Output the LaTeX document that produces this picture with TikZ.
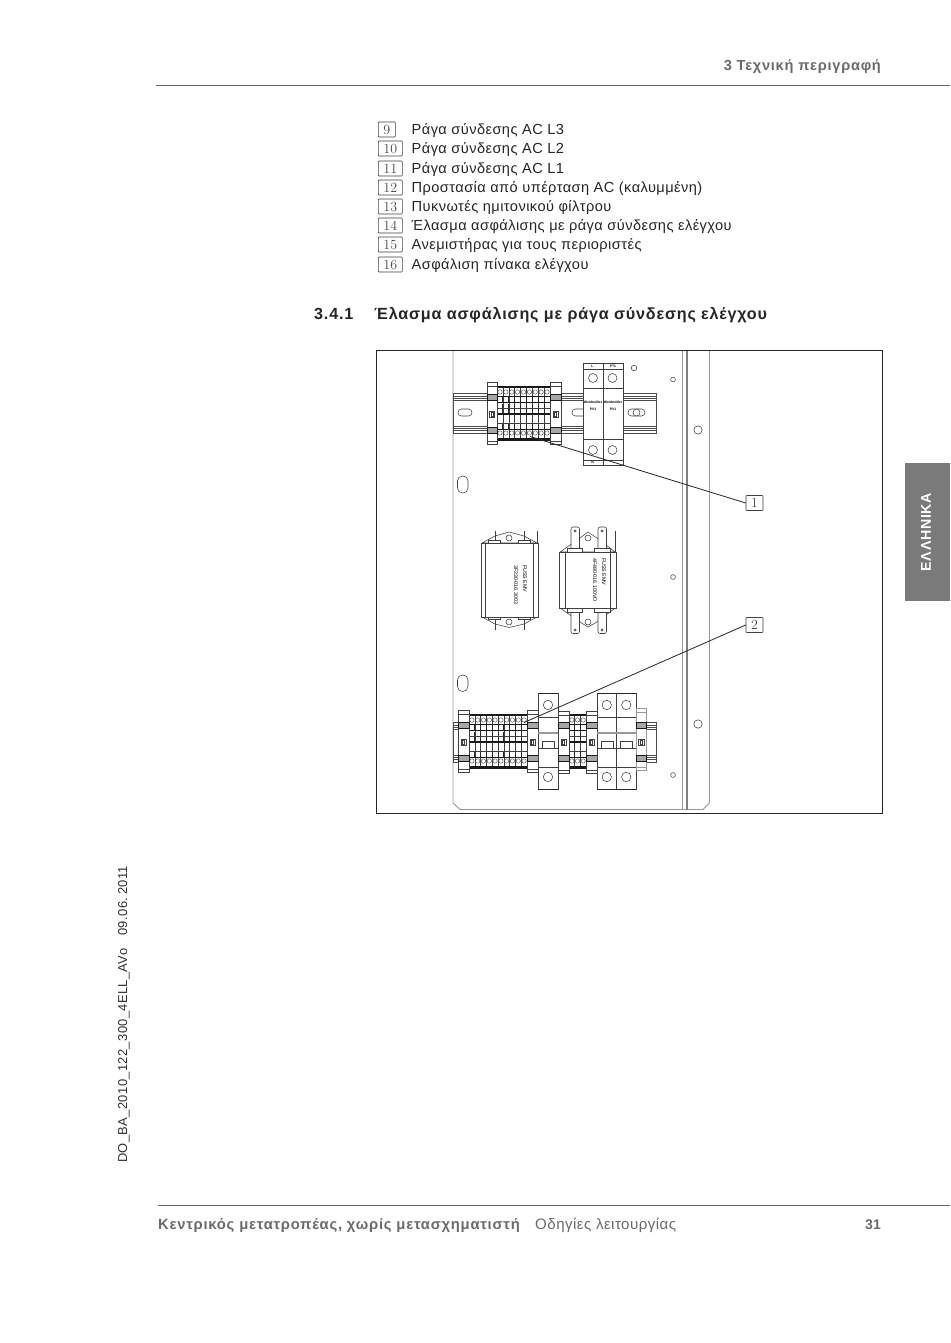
\documentclass[tikz,border=0pt]{standalone}
\usepackage{fontspec}
\setmainfont{Liberation Sans}
\newfontfamily\numfont{Latin Modern Roman}
\newfontfamily\spaced[LetterSpace=3]{Liberation Sans}
\newfontfamily\spacedb[LetterSpace=5,BoldFont={Liberation Sans Bold}]{Liberation Sans}
\definecolor{hdr}{gray}{0.42}
\definecolor{ln}{gray}{0.25}
\definecolor{tabg}{gray}{0.48}
\tikzset{
 line/.style={draw=ln,line width=0.55pt,fill=white},
 thinl/.style={draw=ln,line width=0.4pt},
 grayl/.style={draw=black!40,line width=0.8pt},
 leader/.style={draw=black!85,line width=0.8pt},
 callout/.style={draw=black!75,line width=0.6pt,rounded corners=0.8pt,minimum height=15pt,inner sep=0pt,font=\numfont\fontsize{14}{14}\selectfont,text=black!70},
 itemtext/.style={anchor=base west,inner sep=0pt,font=\spaced\fontsize{14.6}{16}\selectfont,text=black!85},
 smalllab/.style={inner sep=0pt,font=\bfseries\fontsize{3.4}{4}\selectfont,text=black},
 filtlab/.style={inner sep=0pt,rotate=-90,anchor=west,font=\fontsize{5.3}{6}\selectfont,text=black},
}
\newcommand{\hole}[3]{\draw[line] (#1,#2) circle (#3);}
% x0 x1 n ytop
\newcommand{\termblock}[4]{%
 \pgfmathsetmacro{\tw}{(#2-#1)/#3}%
 \fill[white] (#1,#4) rectangle (#2,#4+55);
 \fill[black!90] (#1,#4) rectangle (#2,#4+2);
 \fill[black!90] (#1,#4+52) rectangle (#2,#4+55);
 \foreach \c in {1,...,#3}{%
  \pgfmathsetmacro{\xl}{#1+(\c-1)*\tw}%
  \pgfmathsetmacro{\xm}{\xl+\tw/2}%
  \draw[thinl] (\xl,#4+2) -- (\xl,#4+52);
  \draw[thinl] (\xm,#4+6) circle (2.2);
  \draw[thinl] (\xm,#4+47) circle (2.2);
  \draw[draw=black!85,line width=0.9pt] (\xl,#4+10.5) -- (\xl,#4+16);
  \draw[draw=black!85,line width=0.9pt] (\xl,#4+18) -- (\xl,#4+28);
  \draw[draw=black!85,line width=0.9pt] (\xl,#4+37) -- (\xl,#4+43);
 }%
 \draw[draw=black!90,line width=0.9pt] (#1,#4+10.5) -- (#2,#4+10.5);
 \draw[draw=black!90,line width=0.9pt] (#1,#4+16) -- (#2,#4+16);
 \draw[draw=black!75,line width=0.6pt] (#1,#4+22) -- (#2,#4+22);
 \draw[draw=black!90,line width=1.2pt] (#1,#4+28) -- (#2,#4+28);
 \draw[draw=black!75,line width=0.6pt] (#1,#4+37) -- (#2,#4+37);
 \draw[draw=black!90,line width=0.9pt] (#1,#4+43) -- (#2,#4+43);
 \draw[thinl] (#2,#4+2) -- (#2,#4+52);
}
% end clamp: x0 x1 ytop ybot railtop colour
\newcommand{\clamp}[6]{%
 \draw[line,draw=#6] (#1,#3) rectangle (#2,#4);
 \draw[thinl,draw=#6] (#1,#3+4) -- (#2,#3+4);
 \draw[thinl,draw=#6] (#1,#4-3) -- (#2,#4-3);
 \draw[fill=black!35,draw=black!90,line width=0.7pt] (#1,#5) rectangle (#2,#5+6);
 \draw[fill=black!35,draw=black!90,line width=0.7pt] (#1,#5+33) rectangle (#2,#5+39);
 \draw[thinl] ({(#1+#2)/2-2.6},#5+17) rectangle ({(#1+#2)/2+2.6},#5+23);
 \draw[thinl] ({(#1+#2)/2-1},#5+18.3) rectangle ({(#1+#2)/2+1},#5+21.7);
}
% breaker: x0 x1 with n poles
\newcommand{\breaker}[3]{%
 \draw[line,line width=0.5pt] (#1,693) rectangle (#2,789);
 \draw[draw=black!85,line width=0.9pt] (#1,693) -- (#2,693);
 \draw[draw=black!85,line width=0.9pt] (#1,789) -- (#2,789);
 \pgfmathsetmacro{\pw}{(#2-#1)/#3}%
 \foreach \c in {1,...,#3}{%
  \pgfmathsetmacro{\xl}{#1+(\c-1)*\pw}%
  \pgfmathsetmacro{\xm}{\xl+\pw/2}%
  \draw[thinl] (\xl,693) -- (\xl,789);
  \draw[line] (\xm,705) circle (4.7);
  \draw[line] (\xm,777) circle (4.7);
  \draw[thinl] (\xm-6,748) -- (\xm-6,741.5) -- (\xm+6,741.5) -- (\xm+6,748);
 }%
 \draw[thinl] (#1,717) -- (#2,717);
 \draw[grayl,line width=1.4pt] (#1,733) -- (#2,733);
 \draw[thinl] (#1,748) -- (#2,748);
 \draw[thinl] (#1,767) -- (#2,767);
}
\begin{document}
\begin{tikzpicture}[x=1pt,y=-1pt]
\useasboundingbox (0,0) rectangle (950,1343);
\fill[white] (0,0) rectangle (950,1343);
% header
\node[anchor=base east,inner sep=0pt,font=\spacedb\bfseries\fontsize{14.6}{16}\selectfont,text=hdr] (head) at (881,71) {3 Τεχνική περιγραφή};
\draw[black!60,line width=0.7pt] (156,85.5) -- (950,85.5);
% list
\foreach \n/\nm/\w/\y/\t in {a/9/17/134/Ράγα σύνδεσης AC L3,b/10/24/153/Ράγα σύνδεσης AC L2,c/11/24/173/Ράγα σύνδεσης AC L1,d/12/24/192/Προστασία από υπέρταση AC (καλυμμένη),e/13/24/211/Πυκνωτές ημιτονικού φίλτρου,f/14/24/230/Έλασμα ασφάλισης με ράγα σύνδεσης ελέγχου,g/15/24/249/Ανεμιστήρας για τους περιοριστές,h/16/24/269/Ασφάλιση πίνακα ελέγχου}{
  \node[callout,anchor=west,minimum width=\w pt] (num\n) at (378,\y-4.5) {\nm};
  \node[itemtext] (txt\n) at (411.5,\y+0.5) {\t};
}
% section heading
\node[anchor=base west,inner sep=0pt,font=\spacedb\bfseries\fontsize{16.15}{18}\selectfont,text=black!85] (secnum) at (314,319) {3.4.1};
\node[anchor=base west,inner sep=0pt,font=\spacedb\bfseries\fontsize{16.15}{18}\selectfont,text=black!85] (sectitle) at (374,319) {Έλασμα ασφάλισης με ράγα σύνδεσης ελέγχου};
% figure frame
\draw[draw=black!85,line width=0.8pt] (376.5,350.5) rectangle (882.5,813.5);
% plate
\draw[grayl,line width=0.9pt] (453,351) -- (453,803) -- (460,809.5) -- (703,809.5) -- (709.5,803) -- (709.5,351);
\draw[grayl,line width=0.7pt] (682,351) -- (682,809.5);
\draw[draw=black!50,line width=1.6pt] (687,351) -- (687,809.5);
% plate holes
\draw[line] (634,368) circle (2.8);
\draw[line] (673,379.5) circle (2.4);
\draw[line] (698,430) circle (4.2);
\draw[line] (673,577) circle (2.4);
\draw[line] (698,724) circle (4.2);
\draw[line] (673,775) circle (2.4);
\draw[line,rounded corners=5pt] (457.5,476) rectangle (468,493);
\draw[line,rounded corners=5pt] (457.5,675) rectangle (468,691.5);
% top rail
\draw[draw=black!70,fill=white,line width=0.6pt] (453,393) rectangle (656.5,433);
\foreach \yy in {396,398,400,426,428,430}{\draw[thinl,draw=black!70] (453,\yy) -- (656.5,\yy);}
\draw[line,rounded corners=3.4pt] (458,409) rectangle (472,416);
\draw[line,rounded corners=3.4pt] (572,409) rectangle (590,416);
\draw[line,rounded corners=3.4pt] (628,409) rectangle (645,416);
\draw[line] (636.5,412.5) circle (3.5);
% top terminal block
\termblock{497}{550}{9}{386}
\clamp{487}{497}{382}{444}{394}{ln}
\clamp{550}{561}{382}{444}{394}{ln}
% surge protector
\draw[line,line width=0.7pt] (583,363) rectangle (623,465);
\draw[thinl] (603,363) -- (603,465);
\draw[thinl] (583,369.5) -- (623,369.5);
\draw[thinl] (583,388.5) -- (623,388.5);
\draw[thinl] (583,439) -- (623,439);
\draw[thinl] (583,460) -- (623,460);
\hole{593}{378}{4.5}\hole{612.5}{378}{4.5}\hole{593}{450}{4.5}\hole{612.5}{450}{4.5}
\node[smalllab] (surgeL) at (592.5,366.3) {L};
\node[smalllab] (surgeP) at (613,366.3) {PT1};
\node[smalllab] (surgeN) at (592.5,462.5) {N};
\node[smalllab] (surgeWa) at (593,402) {Weidmüller};
\node[smalllab] (surgeWb) at (613,402) {Weidmüller};
\node[smalllab] (surgeVa) at (593,409) {PV1};
\node[smalllab] (surgeVb) at (613,409) {PV1};
% filter 1
\draw[line] (482,543) -- (495,536) -- (509,532) -- (524,536) -- (537,543) -- cycle;
\draw[line] (482,617) -- (495,624) -- (509,627.5) -- (524,624) -- (537,617) -- cycle;
\draw[thinl] (495,531) -- (495,543);
\draw[thinl] (524,531) -- (524,543);
\draw[thinl] (537,531) -- (537,543);
\draw[thinl] (495,617) -- (495,630);
\draw[thinl] (524,617) -- (524,630);
\draw[line] (481,543) rectangle (538,617);
\draw[thinl] (485,543) -- (485,617);
\draw[thinl] (533,543) -- (533,617);
\foreach \xx in {488,518}{
 \draw[line] (\xx,540.5) rectangle (\xx+12,543);
 \draw[line] (\xx,617) rectangle (\xx+12,619.5);
}
\draw[line] (509,538) circle (3);
\draw[line] (509,622) circle (3);
\node[filtlab] (fa) at (525,565) {FUSS EMV};
\node[filtlab] (fb) at (516,565) {3F230-016.3003};
% filter 2
\draw[line] (560,552) -- (580,538) -- (588,532) -- (597,538) -- (615,552) -- cycle;
\draw[line] (560,608) -- (580,622) -- (588,627) -- (597,622) -- (615,608) -- cycle;
\foreach \xx in {571,598}{
 \draw[line,rounded corners=2pt] (\xx,527) rectangle (\xx+8.5,552);
 \draw[line,rounded corners=2pt] (\xx,608) rectangle (\xx+8.5,633.5);
 \draw[line] (\xx+4.2,531) circle (1.1);
 \draw[line] (\xx+4.2,630) circle (1.1);
}
\draw[thinl] (615,531) -- (615,552);
\draw[line] (559,552) rectangle (616,608);
\draw[thinl,line width=0.9pt] (559,552) -- (616,552);
\draw[thinl,line width=0.9pt] (559,608) -- (616,608);
\draw[thinl] (565,552) -- (565,608);
\draw[thinl] (610,552) -- (610,608);
\draw[line] (567,548) rectangle (582,552);
\draw[line] (594,548) rectangle (610,552);
\draw[line] (567,608) rectangle (582,612);
\draw[line] (594,608) rectangle (610,612);
\draw[line] (588,538) circle (3);
\draw[line] (588,622) circle (3);
\node[filtlab] (fc) at (604,558) {FUSS EMV};
\node[filtlab] (fd) at (595,558) {4F480-016.100VO};
% bottom rail
\draw[draw=black!70,fill=white,line width=0.6pt] (453,722) rectangle (656.5,762);
\foreach \yy in {725,727,729,755,757,759}{\draw[thinl,draw=black!70] (453,\yy) -- (656.5,\yy);}
% bottom devices
\termblock{469}{527}{10}{714}
\clamp{458}{469}{710}{772}{722}{ln}
\clamp{527}{538}{710}{772}{722}{ln}
\breaker{538}{558}{1}
\termblock{569}{586}{3}{714}
\clamp{558}{569}{711}{773}{722}{ln}
\clamp{586}{597}{711}{773}{722}{ln}
\breaker{597}{636}{2}
\clamp{636}{646.5}{708}{770}{722}{black!40}
% callouts and leaders
\node[callout,minimum width=17pt] (c1) at (754.5,503) {1};
\node[callout,minimum width=17pt] (c2) at (754.5,625) {2};
\coordinate (t1) at (530,436.5);
\coordinate (t2) at (524,722.5);
\draw[leader] (t1) -- (c1.west);
\draw[leader] (t2) -- (c2.west);
% side tab
\fill[tabg] (905,463) rectangle (950,601);
\node[rotate=90,inner sep=0pt,font=\spacedb\bfseries\fontsize{14.2}{16}\selectfont,text=white] (lang) at (926,532) {ΕΛΛΗΝΙΚΑ};
% left vertical
\node[rotate=90,anchor=base west,inner sep=0pt,font=\spaced\fontsize{12.9}{14}\selectfont,text=black!80] (docid) at (127,1163) {DO\_BA\_2010\_122\_300\_4ELL\_AVo\hspace{13pt}09.06.\hspace{3pt}2011};
% footer
\draw[black!60,line width=0.7pt] (158,1205.5) -- (950,1205.5);
\node[anchor=base west,inner sep=0pt,font=\spacedb\bfseries\fontsize{14.8}{16}\selectfont,text=hdr] (foota) at (158,1229) {Κεντρικός μετατροπέας, χωρίς μετασχηματιστή};
\node[anchor=base west,inner sep=0pt,font=\spaced\fontsize{15.1}{16}\selectfont,text=hdr] (footb) at (535,1229) {Οδηγίες λειτουργίας};
\node[anchor=base east,inner sep=0pt,font=\bfseries\fontsize{14}{16}\selectfont,text=hdr] (page) at (881,1229) {31};
\end{tikzpicture}
\end{document}
